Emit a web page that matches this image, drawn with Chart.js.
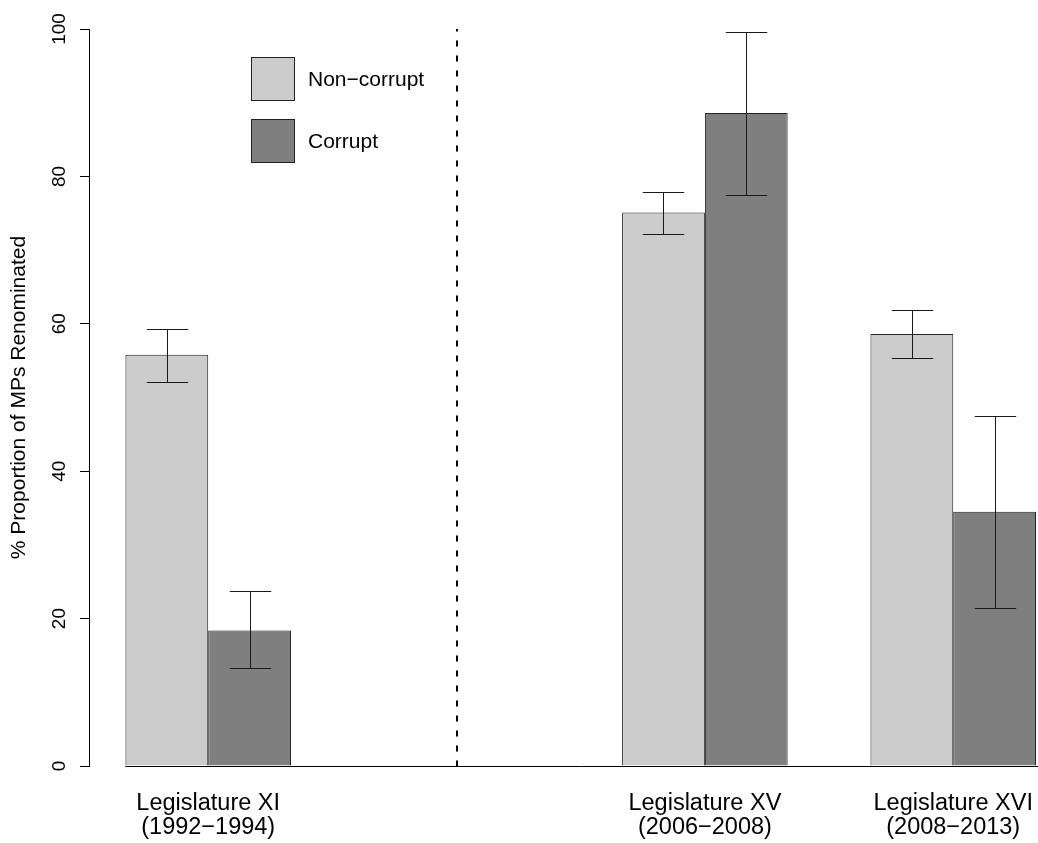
<!DOCTYPE html>
<html lang="en">
<head>
<meta charset="UTF-8">
<title>Proportion of MPs Renominated</title>
<script src="https://cdn.jsdelivr.net/npm/chart.js@4.4.0/dist/chart.umd.min.js"></script>
<style>
    html, body {
        margin: 0;
        padding: 0;
        background: #ffffff;
        overflow: hidden;
    }
</style>
</head>
<body>
<canvas id="renomChart" width="1038" height="843"></canvas>
<script>
// legislatures and their slot in a 4-slot layout (slot 1 is left empty for the divider)
const legislatures = [
    ['Legislature XI', '(1992−1994)'],
    ['Legislature XV', '(2006−2008)'],
    ['Legislature XVI', '(2008−2013)']
];
const groupSlots = [0, 2, 3];
const dividerSlot = 1;
const seriesNames = ['Non−corrupt', 'Corrupt'];

// % renominated, with confidence interval ends
const nonCorrupt = [55.8, 75.1, 58.6];
const nonCorruptLow = [52.1, 72.2, 55.3];
const nonCorruptHigh = [59.3, 77.9, 61.9];
const corrupt = [18.4, 88.6, 34.5];
const corruptLow = [13.3, 77.5, 21.5];
const corruptHigh = [23.7, 99.6, 47.5];

const yTicks = [0, 20, 40, 60, 80, 100];

const FONT = '"Liberation Sans", Arial, Helvetica, sans-serif';
const LIGHT = '#cccccc';
const DARK = '#7f7f7f';

// barplot style: each group takes 3 units (1 space + 2 bars)
const slotCenter = s => s * 3 + 2;
const toPoints = vals => vals.map((v, i) => ({ x: slotCenter(groupSlots[i]), y: v }));

const errorBars = {
    id: 'errorBars',
    afterDatasetsDraw(chart) {
        const ctx = chart.ctx;
        const y = chart.scales.y;
        const ends = [[nonCorruptLow, nonCorruptHigh], [corruptLow, corruptHigh]];
        ctx.save();
        ctx.strokeStyle = '#1a1a1a';
        ctx.lineWidth = 1;
        ends.forEach(([lo, hi], d) => {
            chart.getDatasetMeta(d).data.forEach((bar, i) => {
                const cx = Math.round(bar.x) + 0.5;
                const half = bar.width / 4;
                const yl = Math.round(y.getPixelForValue(lo[i])) + 0.5;
                const yh = Math.round(y.getPixelForValue(hi[i])) + 0.5;
                ctx.beginPath();
                ctx.moveTo(cx, yh);
                ctx.lineTo(cx, yl);
                ctx.moveTo(cx - half, yh);
                ctx.lineTo(cx + half, yh);
                ctx.moveTo(cx - half, yl);
                ctx.lineTo(cx + half, yl);
                ctx.stroke();
            });
        });
        ctx.restore();
    }
};

const extras = {
    id: 'extras',
    afterDatasetsDraw(chart) {
        const ctx = chart.ctx;
        const x = chart.scales.x;
        const y = chart.scales.y;
        const area = chart.chartArea;
        ctx.save();

        // baseline under the bars
        const y0 = Math.round(y.getPixelForValue(0)) + 0.5;
        ctx.strokeStyle = '#000';
        ctx.lineWidth = 1;
        ctx.beginPath();
        ctx.moveTo(x.getPixelForValue(1), y0);
        ctx.lineTo(area.right, y0);
        ctx.stroke();

        // dashed divider in the empty slot
        const dx = Math.round(x.getPixelForValue(slotCenter(dividerSlot)));
        ctx.setLineDash([6, 9]);
        ctx.lineWidth = 2;
        ctx.beginPath();
        ctx.moveTo(dx, y0);
        ctx.lineTo(dx, y.getPixelForValue(100));
        ctx.stroke();
        ctx.setLineDash([]);

        // legend
        const lx = area.left + 162;
        const ly = area.top + 28;
        ctx.font = '21px ' + FONT;
        ctx.textBaseline = 'middle';
        ctx.textAlign = 'left';
        chart.data.datasets.forEach((ds, i) => {
            const by = ly + i * 62;
            ctx.fillStyle = ds.backgroundColor;
            ctx.fillRect(lx, by, 44, 44);
            ctx.strokeStyle = '#222';
            ctx.lineWidth = 1;
            ctx.strokeRect(lx + 0.5, by + 0.5, 43, 43);
            ctx.fillStyle = '#000';
            ctx.fillText(ds.label, lx + 57, by + 23);
        });
        ctx.restore();
    }
};

new Chart(document.getElementById('renomChart'), {
    type: 'bar',
    data: {
        datasets: [
            {
                label: seriesNames[0],
                data: toPoints(nonCorrupt),
                backgroundColor: LIGHT,
                borderColor: '#222',
                borderWidth: 1,
                categoryPercentage: 2 / 3,
                barPercentage: 1
            },
            {
                label: seriesNames[1],
                data: toPoints(corrupt),
                backgroundColor: DARK,
                borderColor: '#222',
                borderWidth: 1,
                categoryPercentage: 2 / 3,
                barPercentage: 1
            }
        ]
    },
    options: {
        responsive: false,
        animation: false,
        devicePixelRatio: 1,
        layout: { padding: { top: 29, left: 0, right: 0, bottom: 0 } },
        plugins: {
            legend: { display: false },
            tooltip: { enabled: false }
        },
        scales: {
            x: {
                type: 'linear',
                min: 0.56,
                max: 12.024,
                bounds: 'data',
                offset: false,
                afterBuildTicks: s => { s.ticks = groupSlots.map(g => ({ value: slotCenter(g) })); },
                afterFit: s => {
                    s.height = 77;
                    s.paddingLeft = 0;
                    s.paddingRight = 0;
                },
                grid: { display: false, drawTicks: false, offset: false },
                border: { display: false },
                ticks: {
                    callback: (v, i) => legislatures[i],
                    autoSkip: false,
                    maxRotation: 0,
                    minRotation: 0,
                    padding: 26,
                    color: '#000',
                    font: { family: FONT, size: 23.5, lineHeight: 1.02 }
                }
            },
            y: {
                min: 0,
                max: 100,
                afterBuildTicks: s => { s.ticks = yTicks.map(v => ({ value: v })); },
                afterFit: s => { s.width = 89; },
                border: { display: true, color: '#000', width: 1 },
                grid: { drawOnChartArea: false, drawTicks: true, tickLength: 9, color: '#000' },
                ticks: {
                    minRotation: 90,
                    maxRotation: 90,
                    crossAlign: 'center',
                    padding: 4,
                    color: '#000',
                    font: { family: FONT, size: 19 }
                },
                title: {
                    display: true,
                    text: '% Proportion of MPs Renominated',
                    color: '#000',
                    font: { family: FONT, size: 21 },
                    padding: { top: 7, bottom: 0 }
                }
            }
        }
    },
    plugins: [errorBars, extras]
});
</script>
</body>
</html>
